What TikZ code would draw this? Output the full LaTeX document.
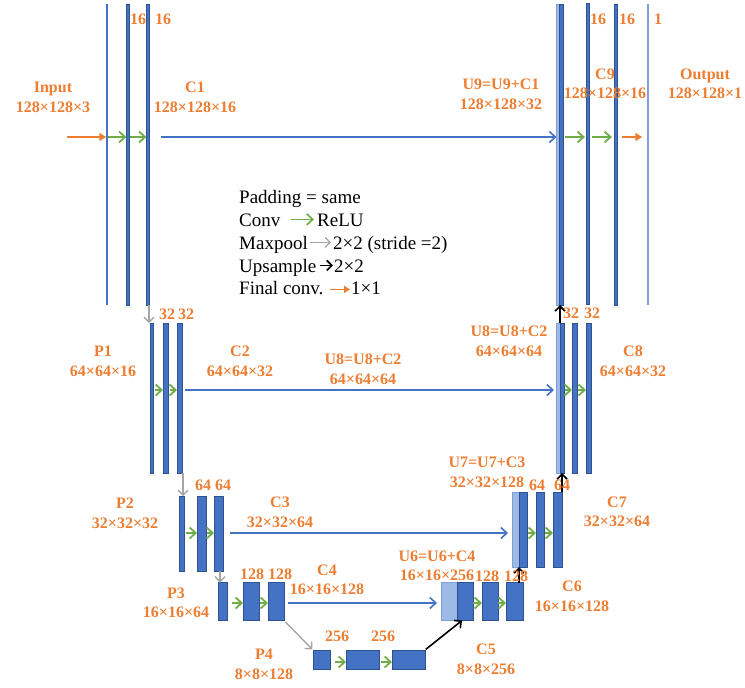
\documentclass[tikz,border=0pt]{standalone}
\usepackage{fontspec}
\setmainfont{Liberation Serif}
\usetikzlibrary{arrows.meta}
\definecolor{lblorange}{HTML}{ED7D31}
\definecolor{barblue}{HTML}{4472C4}
\definecolor{barborder}{HTML}{2F528F}
\definecolor{lightblue}{HTML}{9DBAE6}
\definecolor{lightborder}{HTML}{7F9FD8}
\definecolor{outblue}{HTML}{7F9FD8}
\definecolor{arrgreen}{HTML}{70AD47}
\definecolor{arrgray}{HTML}{A6A6A6}
\definecolor{skipblue}{HTML}{4472C4}
\tikzset{
  bar/.style 2 args={draw=barborder, fill=barblue, line width=0.5pt, inner sep=0pt, outer sep=0pt, minimum width=#1pt, minimum height=#2pt},
  lbar/.style 2 args={draw=lightborder, fill=lightblue, line width=0.4pt, inner sep=0pt, outer sep=0pt, minimum width=#1pt, minimum height=#2pt},
  tline/.style 2 args={draw=none, fill=#1, inner sep=0pt, outer sep=0pt, minimum width=1.5pt, minimum height=#2pt},
  garrow/.style={draw=arrgreen, line width=1.8pt, -{Straight Barb[length=6pt,width=11pt]}},
  barrow/.style={draw=skipblue, line width=1.6pt, -{Straight Barb[length=6pt,width=11pt]}},
  oarrow/.style={draw=lblorange, line width=1.8pt, -{Triangle[length=7pt,width=8pt]}},
  grarrow/.style={draw=arrgray, line width=1.4pt, -{Straight Barb[length=5pt,width=10pt]}},
  karrow/.style={draw=black, line width=1.6pt, -{Straight Barb[length=5pt,width=10pt]}},
  lbl/.style={text=lblorange, font=\bfseries\fontsize{16}{19.5}\selectfont, align=center, inner sep=0pt},
  leg/.style={font=\fontsize{19}{23}\selectfont, inner sep=0pt, anchor=base west},
}
\begin{document}
\begin{tikzpicture}[x=1pt,y=-1pt]
\useasboundingbox (0,0) rectangle (745,688);
% row coordinates
\coordinate (r1) at (0,137);
\coordinate (r2) at (0,390);
\coordinate (r3) at (0,533);
\coordinate (r4) at (0,603);
\coordinate (r5) at (0,662);
\coordinate (inStart) at (67,137);

% ---- level 1 ----
\node[tline={barblue}{301}] (in1) at (107,154.5) {};
\node[bar={3.3}{301}] (L1a) at (128,154.5) {};
\node[bar={3.3}{301}] (L1b) at (148,154.5) {};
\node[lbar={3}{301}] (U9l) at (558,154.5) {};
\node[bar={3.2}{301}] (U9d) at (561.3,154.5) {};
\node[bar={3.3}{301}] (C9a) at (588,153.5) {};
\node[bar={3.3}{301}] (C9b) at (616,154.5) {};
\node[tline={outblue}{301}] (out) at (648,154.5) {};

% ---- level 2 ----
\node[bar={3}{150}] (P1) at (151.5,398) {};
\node[bar={5}{150}] (C2a) at (165.5,398) {};
\node[bar={5}{150}] (C2b) at (179.5,398) {};
\node[lbar={4}{150}] (U8l) at (558,398) {};
\node[bar={4}{150}] (U8d) at (562,398) {};
\node[bar={5}{150}] (C8a) at (574.5,398) {};
\node[bar={5}{150}] (C8b) at (588.5,398) {};

% ---- level 3 ----
\node[bar={5}{75}] (P2) at (181.5,533.5) {};
\node[bar={9}{75}] (C3a) at (201.5,533.5) {};
\node[bar={9}{75}] (C3b) at (218.5,533.5) {};
\node[lbar={7}{75}] (U7l) at (515.5,529.5) {};
\node[bar={8}{75}] (U7d) at (523,529.5) {};
\node[bar={8}{75}] (C7a) at (540,529.5) {};
\node[bar={9}{75}] (C7b) at (557.5,529.5) {};

% ---- level 4 ----
\node[bar={9}{38}] (P3) at (222.5,601.5) {};
\node[bar={16}{38}] (C4a) at (251,601.5) {};
\node[bar={16}{38}] (C4b) at (276,601.5) {};
\node[lbar={16}{38}] (U6l) at (449,601.5) {};
\node[bar={16}{38}] (U6d) at (465,601.5) {};
\node[bar={16}{38}] (C6a) at (490,601.5) {};
\node[bar={17}{38}] (C6b) at (514.5,601.5) {};

% ---- level 5 ----
\node[bar={17}{19}] (P4) at (321.5,659.5) {};
\node[bar={33}{19}] (C5a) at (362.5,659.5) {};
\node[bar={33}{19}] (C5b) at (408.5,659.5) {};

% ---- arrows level 1 ----
\draw[oarrow] (inStart) -- (in1.west |- r1);
\draw[garrow] (in1.east |- r1) -- (L1a.west |- r1);
\draw[garrow] (L1a.east |- r1) -- (L1b.west |- r1);
\draw[barrow, shorten <=11pt] (L1b.east |- r1) -- (U9l.west |- r1);
\draw[garrow, shorten <=2pt, shorten >=1.5pt] (U9d.east |- r1) -- (C9a.west |- r1);
\draw[garrow, shorten <=2.5pt, shorten >=2.5pt] (C9a.east |- r1) -- (C9b.west |- r1);
\draw[oarrow, shorten <=4.5pt, shorten >=5pt] (C9b.east |- r1) -- (out.west |- r1);

% ---- arrows level 2 ----
\draw[garrow, shorten <=2pt] (P1.east |- r2) -- (C2a.west |- r2);
\draw[garrow, shorten <=1.5pt] (C2a.east |- r2) -- (C2b.west |- r2);
\draw[barrow, shorten <=3pt, shorten >=2pt] (C2b.east |- r2) -- (U8l.west |- r2);
\draw[garrow, shorten <=1pt] (U8d.east |- r2) -- (C8a.west |- r2);
\draw[garrow, shorten <=1pt] (C8a.east |- r2) -- (C8b.west |- r2);

% ---- arrows level 3 ----
\draw[garrow, shorten <=2pt] (P2.east |- r3) -- (C3a.west |- r3);
\draw[garrow, shorten <=1pt] (C3a.east |- r3) -- (C3b.west |- r3);
\draw[barrow, shorten <=7pt, shorten >=4pt] (C3b.east |- r3) -- (U7l.west |- r3);
\draw[garrow, shorten <=1pt] (U7d.east |- r3) -- (C7a.west |- r3);
\draw[garrow, shorten <=0.5pt] (C7a.east |- r3) -- (C7b.west |- r3);

% ---- arrows level 4 ----
\draw[garrow, shorten <=5pt] (P3.east |- r4) -- (C4a.west |- r4);
\draw[garrow, shorten <=0.5pt] (C4a.east |- r4) -- (C4b.west |- r4);
\draw[barrow, shorten <=4pt, shorten >=4pt] (C4b.east |- r4) -- (U6l.west |- r4);
\draw[garrow, shorten <=0pt] (U6d.east |- r4) -- (C6a.west |- r4);
\draw[garrow, shorten <=0pt] (C6a.east |- r4) -- (C6b.west |- r4);

% ---- arrows level 5 ----
\draw[garrow, shorten <=5pt] (P4.east |- r5) -- (C5a.west |- r5);
\draw[garrow, shorten <=2pt] (C5a.east |- r5) -- (C5b.west |- r5);

% ---- maxpool arrows ----
\draw[grarrow] ([xshift=1pt]L1b.south) -- ([xshift=1pt]L1b.south |- P1.north);
\draw[grarrow] ([xshift=1pt]C2b.south east) -- ([xshift=1pt]C2b.south east |- P2.north);
\draw[grarrow] ([xshift=1.5pt]C3b.south) -- ([xshift=1.5pt]C3b.south |- P3.north);
\draw[grarrow, shorten <=2pt, shorten >=1pt] (C4b.south east) -- (P4.north west);

% ---- upsample arrows ----
\draw[karrow, shorten <=1pt] (C5b.north east) -- ([xshift=-3pt]U6d.south);
\draw[karrow] (U7d.south west |- C6b.north) -- (U7d.south west);
\draw[karrow] (U8d.south |- C7b.north) -- (U8d.south);
\draw[karrow] (U8d.north west) -- (U8d.north west |- U9d.south);

% ---- channel numbers ----
\node[lbl] (n1a) at (138,19) {16};
\node[lbl] (n1b) at (163,19) {16};
\node[lbl] (n9a) at (598,19) {16};
\node[lbl] (n9b) at (627,19) {16};
\node[lbl] (n9c) at (658,19) {1};
\node[lbl] (n2a) at (167,314) {32};
\node[lbl] (n2b) at (186,314) {32};
\node[lbl] (n8a) at (571,313) {32};
\node[lbl] (n8b) at (592,313) {32};
\node[lbl] (n3a) at (203,485) {64};
\node[lbl] (n3b) at (223,485) {64};
\node[lbl] (n7a) at (537,485) {64};
\node[lbl] (n7b) at (562,485) {64};
\node[lbl] (n4a) at (252,574) {128};
\node[lbl] (n4b) at (280,574) {128};
\node[lbl] (n6a) at (487,576) {128};
\node[lbl] (n6b) at (516,576) {128};
\node[lbl] (n5a) at (337,636) {256};
\node[lbl] (n5b) at (383,636) {256};

% ---- block labels ----
\node[lbl] (tInput) at (53,97.5) {Input\\128×128×3};
\node[lbl] (tC1) at (195,97.5) {C1\\128×128×16};
\node[lbl] (tU9) at (501,94.5) {U9=U9+C1\\128×128×32};
\node[lbl] (tC9) at (605,84) {C9\\128×128×16};
\node[lbl] (tOut) at (705,84) {Output\\128×128×1};
\node[lbl] (tP1) at (103,361.5) {P1\\64×64×16};
\node[lbl] (tC2) at (240,361.5) {C2\\64×64×32};
\node[lbl] (tU8a) at (363,369.5) {U8=U8+C2\\64×64×64};
\node[lbl] (tU8b) at (509,341.5) {U8=U8+C2\\64×64×64};
\node[lbl] (tC8) at (633,361.5) {C8\\64×64×32};
\node[lbl] (tU7) at (487,472.5) {U7=U7+C3\\32×32×128};
\node[lbl] (tP2) at (125,513.5) {P2\\32×32×32};
\node[lbl] (tC3) at (280,512.5) {C3\\32×32×64};
\node[lbl] (tC7) at (617,512) {C7\\32×32×64};
\node[lbl] (tP3) at (176,603) {P3\\16×16×64};
\node[lbl] (tC4) at (327,580) {C4\\16×16×128};
\node[lbl] (tU6) at (437,566) {U6=U6+C4\\16×16×256};
\node[lbl] (tC6) at (572,596.5) {C6\\16×16×128};
\node[lbl] (tP4) at (264,664.5) {P4\\8×8×128};
\node[lbl] (tC5) at (486,659.5) {C5\\8×8×256};

% ---- legend ----
\node[leg] (lg1) at (239,203) {\strut Padding = same};
\node[leg] (lg2a) at (239,226) {\strut Conv};
\node[leg] (lg2b) at (317,226) {\strut ReLU};
\node[leg] (lg3a) at (239,249) {\strut Maxpool};
\node[leg] (lg3b) at (333,249) {\strut 2×2 (stride =2)};
\node[leg] (lg4a) at (239,272) {\strut Upsample};
\node[leg] (lg4b) at (334,272) {\strut 2×2};
\node[leg] (lg5a) at (239,294) {\strut Final conv.};
\node[leg] (lg5b) at (351,294) {\strut 1×1};
\draw[garrow, line width=1.7pt, shorten <=10pt, shorten >=3pt] ([yshift=2pt]lg2a.east) -- ([yshift=2pt]lg2b.west);
\draw[draw=arrgray, line width=1.3pt, -{Straight Barb[length=5pt,width=10pt]}, shorten <=2pt, shorten >=2pt] ([yshift=2pt]lg3a.east) -- ([yshift=2pt]lg3b.west);
\draw[draw=black, line width=1.7pt, -{Straight Barb[length=5pt,width=10pt]}, shorten <=4pt, shorten >=1pt] ([yshift=2pt]lg4a.east) -- ([yshift=2pt]lg4b.west);
\draw[draw=lblorange, line width=1.7pt, -{Triangle[length=6pt,width=7pt]}, shorten <=6pt, shorten >=1pt] ([yshift=0pt]lg5a.east) -- ([yshift=0pt]lg5b.west);
\end{tikzpicture}
\end{document}
